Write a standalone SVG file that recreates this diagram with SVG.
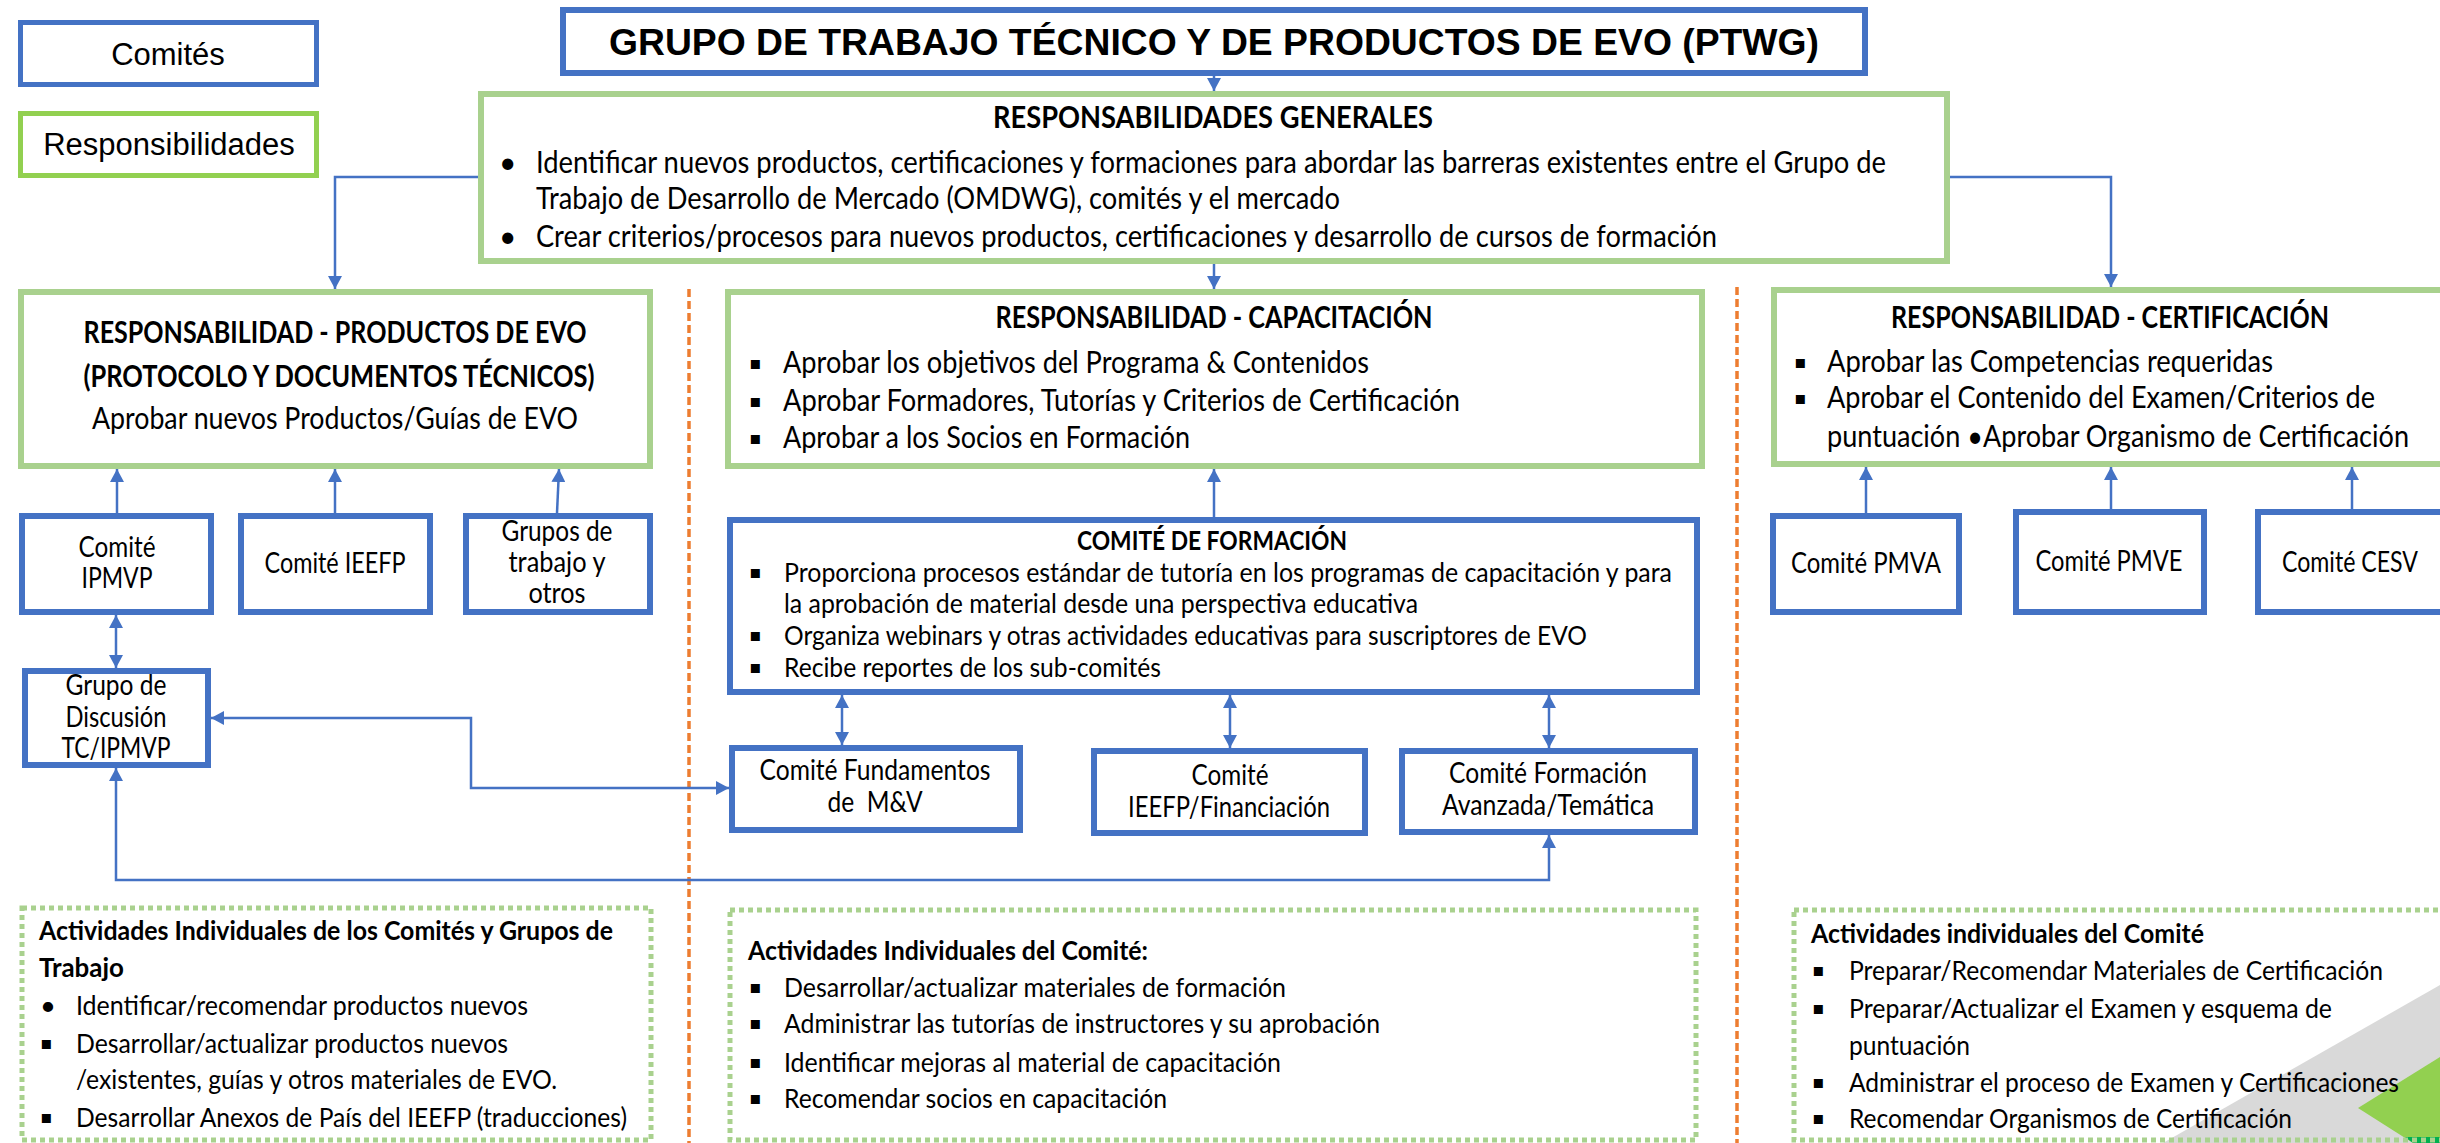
<svg xmlns="http://www.w3.org/2000/svg" width="2440" height="1143" viewBox="0 0 2440 1143">
<style>
.bg{fill:#fff}
.cb{fill:#fff;stroke:#4472C4;stroke-width:6}
.rb{fill:#fff;stroke:#A9D18E;stroke-width:6}
.ab{fill:none;stroke:#A9D18E;stroke-width:5;stroke-dasharray:5 4}
.or{stroke:#ED7D31;stroke-width:3.5;stroke-dasharray:8 4;fill:none}
.cn{fill:none;stroke:#4472C4;stroke-width:2.5}
.t{font-family:Lato,"Open Sans","DejaVu Sans",sans-serif;font-size:30px;fill:#000}
.s{font-size:27.5px}
.k{font-size:29px}
.b{font-weight:bold}
.m{text-anchor:middle}
.ar{font-family:"Liberation Sans",Arial,sans-serif;fill:#000}
.bu{font-family:"DejaVu Sans",sans-serif;font-size:18px;fill:#000}
.pre{white-space:pre}
</style>
<defs>
<marker id="ah" markerUnits="userSpaceOnUse" markerWidth="14" markerHeight="14" refX="13" refY="7" orient="auto-start-reverse">
<path d="M0,0 L13,7 L0,14 z" fill="#4472C4"/>
</marker>
</defs>
<rect class="bg" x="0" y="0" width="2440" height="1143"/>

<g id="dividers">
<line class="or" x1="689" y1="289" x2="689" y2="1143"/>
<line class="or" x1="1737" y1="287" x2="1737" y2="1143"/>
</g>

<g id="decor">
<polygon points="2163,1143 2440,985 2440,1143" fill="#D9D9D9"/>
<polygon points="2358,1108 2440,1057 2440,1143 2413,1143" fill="#92D050"/>
<polygon points="2405,1137 2440,1137 2440,1143 2413,1143" fill="#00B050"/>
</g>

<g id="connectors">
<line class="cn" x1="1214" y1="76" x2="1214" y2="91" marker-end="url(#ah)"/>
<line class="cn" x1="1214" y1="264" x2="1214" y2="289" marker-end="url(#ah)"/>
<path class="cn" d="M478,177 H335 V289" marker-end="url(#ah)"/>
<path class="cn" d="M1950,177 H2111 V287" marker-end="url(#ah)"/>
<line class="cn" x1="117" y1="513" x2="117" y2="469" marker-end="url(#ah)"/>
<line class="cn" x1="335" y1="513" x2="335" y2="469" marker-end="url(#ah)"/>
<line class="cn" x1="557" y1="513" x2="559" y2="469" marker-end="url(#ah)"/>
<line class="cn" x1="116" y1="615" x2="116" y2="668" marker-start="url(#ah)" marker-end="url(#ah)"/>
<path class="cn" d="M211,718 H471 V788 H729" marker-start="url(#ah)" marker-end="url(#ah)"/>
<path class="cn" d="M116,768 V880 H1549 V835" marker-start="url(#ah)" marker-end="url(#ah)"/>
<line class="cn" x1="1214" y1="517" x2="1214" y2="469" marker-end="url(#ah)"/>
<line class="cn" x1="842" y1="695" x2="842" y2="745" marker-start="url(#ah)" marker-end="url(#ah)"/>
<line class="cn" x1="1230" y1="695" x2="1230" y2="748" marker-start="url(#ah)" marker-end="url(#ah)"/>
<line class="cn" x1="1549" y1="695" x2="1549" y2="748" marker-start="url(#ah)" marker-end="url(#ah)"/>
<line class="cn" x1="1866" y1="513" x2="1866" y2="467" marker-end="url(#ah)"/>
<line class="cn" x1="2111" y1="509" x2="2111" y2="467" marker-end="url(#ah)"/>
<line class="cn" x1="2352" y1="509" x2="2352" y2="467" marker-end="url(#ah)"/>
</g>

<g id="legend-comites">
<rect x="20.5" y="22.5" width="296" height="62" fill="#fff" stroke="#4472C4" stroke-width="5"/>
<text class="ar m" x="168" y="65" font-size="31">Comités</text>
</g>
<g id="legend-responsabilidades">
<rect x="20.5" y="113.5" width="296" height="62" fill="#fff" stroke="#92D050" stroke-width="5"/>
<text class="ar m" x="169" y="155" font-size="31">Responsibilidades</text>
</g>

<g id="title">
<rect class="cb" x="563" y="10" width="1302" height="63"/>
<text class="ar m b" x="1214" y="55" font-size="37.5" textLength="1210" lengthAdjust="spacingAndGlyphs">GRUPO DE TRABAJO TÉCNICO Y DE PRODUCTOS DE EVO (PTWG)</text>
</g>

<g id="resp-generales">
<rect class="rb" x="481" y="94" width="1466" height="167"/>
<text class="t b m" x="1213" y="128" textLength="440" lengthAdjust="spacingAndGlyphs">RESPONSABILIDADES GENERALES</text>
<text class="t" x="499" y="173">•</text>
<text class="t" x="536" y="173" textLength="1350" lengthAdjust="spacingAndGlyphs">Identificar nuevos productos, certificaciones y formaciones para abordar las barreras existentes entre el Grupo de</text>
<text class="t" x="536" y="209" textLength="804" lengthAdjust="spacingAndGlyphs">Trabajo de Desarrollo de Mercado (OMDWG), comités y el mercado</text>
<text class="t" x="499" y="247">•</text>
<text class="t" x="536" y="247" textLength="1181" lengthAdjust="spacingAndGlyphs">Crear criterios/procesos para nuevos productos, certificaciones y desarrollo de cursos de formación</text>
</g>

<g id="resp-productos">
<rect class="rb" x="21" y="292" width="629" height="174"/>
<text class="t b m" x="335" y="343" textLength="503" lengthAdjust="spacingAndGlyphs">RESPONSABILIDAD - PRODUCTOS DE EVO</text>
<text class="t b m" x="339" y="387" textLength="511" lengthAdjust="spacingAndGlyphs">(PROTOCOLO Y DOCUMENTOS TÉCNICOS)</text>
<text class="t m" x="335" y="429" textLength="486" lengthAdjust="spacingAndGlyphs">Aprobar nuevos Productos/Guías de EVO</text>
</g>

<g id="resp-capacitacion">
<rect class="rb" x="728" y="292" width="974" height="174"/>
<text class="t b m" x="1214" y="328" textLength="437" lengthAdjust="spacingAndGlyphs">RESPONSABILIDAD - CAPACITACIÓN</text>
<text class="bu" x="749" y="369">▪</text>
<text class="t" x="783" y="373" textLength="586" lengthAdjust="spacingAndGlyphs">Aprobar los objetivos del Programa &amp; Contenidos</text>
<text class="bu" x="749" y="407">▪</text>
<text class="t" x="783" y="411" textLength="677" lengthAdjust="spacingAndGlyphs">Aprobar Formadores, Tutorías y Criterios de Certificación</text>
<text class="bu" x="749" y="444">▪</text>
<text class="t" x="783" y="448" textLength="407" lengthAdjust="spacingAndGlyphs">Aprobar a los Socios en Formación</text>
</g>

<g id="resp-certificacion">
<rect class="rb" x="1774" y="290" width="680" height="174"/>
<text class="t b m" x="2110" y="328" textLength="438" lengthAdjust="spacingAndGlyphs">RESPONSABILIDAD - CERTIFICACIÓN</text>
<text class="bu" x="1794" y="368">▪</text>
<text class="t" x="1827" y="372" textLength="446" lengthAdjust="spacingAndGlyphs">Aprobar las Competencias requeridas</text>
<text class="bu" x="1794" y="404">▪</text>
<text class="t" x="1827" y="408" textLength="548" lengthAdjust="spacingAndGlyphs">Aprobar el Contenido del Examen/Criterios de</text>
<text class="t" x="1827" y="447" textLength="582" lengthAdjust="spacingAndGlyphs">puntuación •Aprobar Organismo de Certificación</text>
</g>

<g id="comite-ipmvp">
<rect class="cb" x="22" y="516" width="189" height="96"/>
<text class="t k m" x="117" y="557" textLength="77" lengthAdjust="spacingAndGlyphs">Comité</text>
<text class="t k m" x="117" y="588" textLength="71" lengthAdjust="spacingAndGlyphs">IPMVP</text>
</g>
<g id="comite-ieefp">
<rect class="cb" x="241" y="516" width="189" height="96"/>
<text class="t k m" x="335" y="573" textLength="141" lengthAdjust="spacingAndGlyphs">Comité IEEFP</text>
</g>
<g id="grupos-trabajo">
<rect class="cb" x="466" y="516" width="184" height="96"/>
<text class="t k m" x="557" y="541" textLength="111" lengthAdjust="spacingAndGlyphs">Grupos de</text>
<text class="t k m" x="557" y="572" textLength="97" lengthAdjust="spacingAndGlyphs">trabajo y</text>
<text class="t k m" x="557" y="603" textLength="57" lengthAdjust="spacingAndGlyphs">otros</text>
</g>
<g id="grupo-discusion">
<rect class="cb" x="25" y="671" width="183" height="94"/>
<text class="t k m" x="116" y="695" textLength="101" lengthAdjust="spacingAndGlyphs">Grupo de</text>
<text class="t k m" x="116" y="727" textLength="101" lengthAdjust="spacingAndGlyphs">Discusión</text>
<text class="t k m" x="116" y="758" textLength="109" lengthAdjust="spacingAndGlyphs">TC/IPMVP</text>
</g>

<g id="comite-formacion">
<rect class="cb" x="730" y="520" width="967" height="172"/>
<text class="t s b m" x="1212" y="550" textLength="270" lengthAdjust="spacingAndGlyphs">COMITÉ DE FORMACIÓN</text>
<text class="bu" x="749" y="578">▪</text>
<text class="t s" x="784" y="582" textLength="888" lengthAdjust="spacingAndGlyphs">Proporciona procesos estándar de tutoría en los programas de capacitación y para</text>
<text class="t s" x="784" y="613" textLength="634" lengthAdjust="spacingAndGlyphs">la aprobación de material desde una perspectiva educativa</text>
<text class="bu" x="749" y="641">▪</text>
<text class="t s" x="784" y="645" textLength="803" lengthAdjust="spacingAndGlyphs">Organiza webinars y otras actividades educativas para suscriptores de EVO</text>
<text class="bu" x="749" y="673">▪</text>
<text class="t s" x="784" y="677" textLength="377" lengthAdjust="spacingAndGlyphs">Recibe reportes de los sub-comités</text>
</g>

<g id="comite-fundamentos">
<rect class="cb" x="732" y="748" width="288" height="82"/>
<text class="t k m" x="875" y="780" textLength="231" lengthAdjust="spacingAndGlyphs">Comité Fundamentos</text>
<text class="t k m pre" x="875" y="812" textLength="95" lengthAdjust="spacingAndGlyphs">de  M&amp;V</text>
</g>
<g id="comite-ieefp-financiacion">
<rect class="cb" x="1094" y="751" width="271" height="82"/>
<text class="t k m" x="1230" y="785" textLength="77" lengthAdjust="spacingAndGlyphs">Comité</text>
<text class="t k m" x="1229" y="817" textLength="202" lengthAdjust="spacingAndGlyphs">IEEFP/Financiación</text>
</g>
<g id="comite-avanzada">
<rect class="cb" x="1402" y="751" width="293" height="81"/>
<text class="t k m" x="1548" y="783" textLength="198" lengthAdjust="spacingAndGlyphs">Comité Formación</text>
<text class="t k m" x="1548" y="815" textLength="212" lengthAdjust="spacingAndGlyphs">Avanzada/Temática</text>
</g>

<g id="comite-pmva">
<rect class="cb" x="1773" y="516" width="186" height="96"/>
<text class="t k m" x="1866" y="573" textLength="150" lengthAdjust="spacingAndGlyphs">Comité PMVA</text>
</g>
<g id="comite-pmve">
<rect class="cb" x="2016" y="512" width="188" height="100"/>
<text class="t k m" x="2109" y="571" textLength="147" lengthAdjust="spacingAndGlyphs">Comité PMVE</text>
</g>
<g id="comite-cesv">
<rect class="cb" x="2258" y="512" width="200" height="100"/>
<text class="t k m" x="2350" y="572" textLength="136" lengthAdjust="spacingAndGlyphs">Comité CESV</text>
</g>

<g id="actividades-productos">
<rect class="ab" x="22" y="908" width="629" height="232"/>
<text class="t s b" x="39" y="940" textLength="574" lengthAdjust="spacingAndGlyphs">Actividades Individuales de los Comités y Grupos de</text>
<text class="t s b" x="39" y="977" textLength="85" lengthAdjust="spacingAndGlyphs">Trabajo</text>
<text class="t s" x="40" y="1015">•</text>
<text class="t s" x="76" y="1015" textLength="452" lengthAdjust="spacingAndGlyphs">Identificar/recomendar productos nuevos</text>
<text class="bu" x="40" y="1049">▪</text>
<text class="t s" x="76" y="1053" textLength="432" lengthAdjust="spacingAndGlyphs">Desarrollar/actualizar productos nuevos</text>
<text class="t s" x="76" y="1089" textLength="481" lengthAdjust="spacingAndGlyphs">/existentes, guías y otros materiales de EVO.</text>
<text class="bu" x="40" y="1123">▪</text>
<text class="t s" x="76" y="1127" textLength="551" lengthAdjust="spacingAndGlyphs">Desarrollar Anexos de País del IEEFP (traducciones)</text>
</g>

<g id="actividades-capacitacion">
<rect class="ab" x="730" y="910" width="966" height="230"/>
<text class="t s b" x="748" y="960" textLength="400" lengthAdjust="spacingAndGlyphs">Actividades Individuales del Comité:</text>
<text class="bu" x="749" y="993">▪</text>
<text class="t s" x="784" y="997" textLength="502" lengthAdjust="spacingAndGlyphs">Desarrollar/actualizar materiales de formación</text>
<text class="bu" x="749" y="1029">▪</text>
<text class="t s" x="784" y="1033" textLength="596" lengthAdjust="spacingAndGlyphs">Administrar las tutorías de instructores y su aprobación</text>
<text class="bu" x="749" y="1068">▪</text>
<text class="t s" x="784" y="1072" textLength="497" lengthAdjust="spacingAndGlyphs">Identificar mejoras al material de capacitación</text>
<text class="bu" x="749" y="1104">▪</text>
<text class="t s" x="784" y="1108" textLength="383" lengthAdjust="spacingAndGlyphs">Recomendar socios en capacitación</text>
</g>

<g id="actividades-certificacion">
<rect class="ab" x="1794" y="910" width="660" height="230"/>
<text class="t s b" x="1811" y="943" textLength="393" lengthAdjust="spacingAndGlyphs">Actividades individuales del Comité</text>
<text class="bu" x="1812" y="976">▪</text>
<text class="t s" x="1849" y="980" textLength="534" lengthAdjust="spacingAndGlyphs">Preparar/Recomendar Materiales de Certificación</text>
<text class="bu" x="1812" y="1014">▪</text>
<text class="t s" x="1849" y="1018" textLength="483" lengthAdjust="spacingAndGlyphs">Preparar/Actualizar el Examen y esquema de</text>
<text class="t s" x="1849" y="1055" textLength="121" lengthAdjust="spacingAndGlyphs">puntuación</text>
<text class="bu" x="1812" y="1088">▪</text>
<text class="t s" x="1849" y="1092" textLength="550" lengthAdjust="spacingAndGlyphs">Administrar el proceso de Examen y Certificaciones</text>
<text class="bu" x="1812" y="1124">▪</text>
<text class="t s" x="1849" y="1128" textLength="443" lengthAdjust="spacingAndGlyphs">Recomendar Organismos de Certificación</text>
</g>
</svg>
